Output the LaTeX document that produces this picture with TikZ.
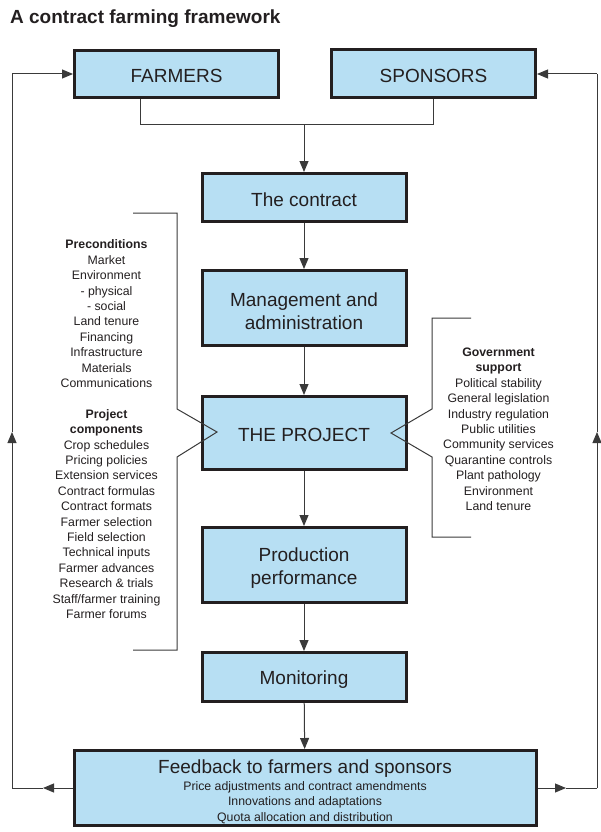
\documentclass[tikz,border=0pt]{standalone}
\usepackage{fontspec}
\setmainfont{Liberation Sans}
\usetikzlibrary{arrows.meta}
\definecolor{boxfill}{HTML}{B7DFF3}
\definecolor{boxline}{HTML}{231F20}
\definecolor{conn}{HTML}{3A3A3A}
\newcommand{\lift}[1]{\rule{0pt}{#1}}
\tikzset{
  box/.style={draw=boxline, fill=boxfill, line width=3pt, inner sep=0pt,
    align=center, font=\fontsize{19}{23}\selectfont, text=boxline},
  conline/.style={draw=conn, line width=1pt},
  arr/.style={-{Triangle[length=11pt,width=9pt]}},
  listtext/.style={align=center, inner sep=0pt, anchor=north,
    font=\fontsize{12.3}{15.4}\selectfont, text=boxline},
  bracket/.style={draw=conn, line width=1pt, line join=miter}
}
\begin{document}
\begin{tikzpicture}[x=1pt,y=-1pt]
\useasboundingbox (0,0) rectangle (600,832);
% title
\node[anchor=base west, inner sep=0pt, font=\fontsize{19}{22}\selectfont\bfseries, text=boxline] (title) at (10,23.5) {A contract farming framework};
% boxes
\node[box, minimum width=204pt, minimum height=47pt] (farmers) at (176.5,74) {\lift{18pt}FARMERS};
\node[box, minimum width=204pt, minimum height=48pt] (sponsors) at (433.5,74) {\lift{18pt}SPONSORS};
\node[box, minimum width=204pt, minimum height=48pt] (contract) at (304,197.5) {\lift{18pt}The contract};
\node[box, minimum width=204pt, minimum height=75pt] (mgmt) at (304,308) {\lift{19.5pt}Management and\\administration};
\node[box, minimum width=204pt, minimum height=73pt] (project) at (304,433) {\lift{18pt}THE PROJECT};
\node[box, minimum width=204pt, minimum height=75pt] (prod) at (304,565) {\lift{19.5pt}Production\\performance};
\node[box, minimum width=204pt, minimum height=49pt] (monit) at (304,677) {\lift{18pt}Monitoring};
\node[box, minimum width=462pt, minimum height=75pt, font=\fontsize{12.3}{15.5}\selectfont] (fb) at (305,788)
  {{\fontsize{19}{23}\selectfont\lift{21pt}Feedback to farmers and sponsors}\\[1pt]
   Price adjustments and contract amendments\\
   Innovations and adaptations\\
   Quota allocation and distribution};
% top junction
\coordinate (fj) at (140,125);
\coordinate (sj) at (433,125);
\coordinate (cj) at (304,125);
\draw[conline] (fj |- farmers.south) -- (fj) -- (sj) -- (sj |- sponsors.south);
\draw[conline, arr] (cj) -- (contract.north);
% central chain
\draw[conline, arr] (contract) -- (mgmt);
\draw[conline, arr] (mgmt) -- (project);
\draw[conline, arr] (project) -- (prod);
\draw[conline, arr] (prod) -- (monit);
\draw[conline, arr] (monit) -- (fb);
% feedback loops
\coordinate (la) at (43,788);
\coordinate (lc) at (12,788);
\coordinate (lu) at (12,432);
\coordinate (lt) at (12,74);
\coordinate (ra) at (566,788);
\coordinate (rc) at (597,788);
\coordinate (ru) at (597,432);
\coordinate (rt) at (597,74);
\draw[conline, arr] (fb.west) -- (la);
\draw[conline] (la) -- (lc);
\draw[conline, arr] (lc) -- (lu);
\draw[conline] (lu) -- (lt);
\draw[conline, arr] (lt) -- (farmers.west);
\draw[conline, arr] (fb.east) -- (ra);
\draw[conline] (ra) -- (rc);
\draw[conline, arr] (rc) -- (ru);
\draw[conline] (ru) -- (rt);
\draw[conline, arr] (rt) -- (sponsors.east);
% brackets
\draw[bracket] (133,213) -- (177,213) -- (177,409) -- (217,432) -- (177,457) -- (177,650) -- (133,650);
\draw[bracket] (471,318) -- (432,318) -- (432,409) -- (391,433) -- (432,457) -- (432,537) -- (471,537);
% side texts
\node[listtext] (pre) at (106.5,239.8) {\textbf{Preconditions}\\Market\\Environment\\- physical\\- social\\Land tenure\\Financing\\Infrastructure\\Materials\\Communications\\[15.4pt]
\textbf{Project}\\\textbf{components}\\Crop schedules\\Pricing policies\\Extension services\\Contract formulas\\Contract formats\\Farmer selection\\Field selection\\Technical inputs\\Farmer advances\\Research \& trials\\Staff/farmer training\\Farmer forums};
\node[listtext] (gov) at (498.5,347.8) {\textbf{Government}\\\textbf{support}\\Political stability\\General legislation\\Industry regulation\\Public utilities\\Community services\\Quarantine controls\\Plant pathology\\Environment\\Land tenure};
\end{tikzpicture}
\end{document}
